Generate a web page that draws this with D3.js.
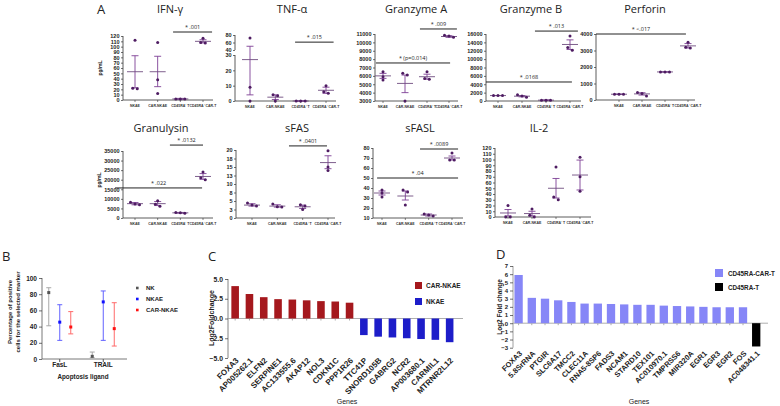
<!DOCTYPE html>
<html><head><meta charset="utf-8">
<script src="https://cdn.jsdelivr.net/npm/d3@7"></script>
<style>body{margin:0;background:#fff}svg{display:block;font-family:"Open Sans",sans-serif}</style>
</head><body><svg id="c" width="780" height="406"></svg>
<script>
// ---------- Panel A data ----------
const groupsA = ["NKAE", "CAR-NKAE", "CD45RA\u207B T", "CD45RA\u207B CAR-T"];

const ifngPoints = [[112, 22, 21], [108, 38, 12], [2, 2, 2], [116, 108, 107]];
const ifngMean = [53, 53, 2, 110];
const ifngLow = [23, 25, 1, 107];
const ifngHigh = [83, 82, 3, 113];
const ifngSig = [["* .001", 127.5, 1.68, 3.4]];

const tnfPoints = [[72, 9, 0], [4, 3.5, 0], [0, 0, 0], [10, 6, 5]];
const tnfMean = [27, 2.5, 0, 7];
const tnfLow = [4, 1, 0, 5];
const tnfHigh = [50, 4, 0, 9];
const tnfSig = [["* .015", 61, 1.78, 3.3]];

const gzmaPoints = [[6500, 5900, 5500], [6300, 6100, 3000], [6500, 5700, 5600], [10850, 10750, 10600]];
const gzmaMean = [6000, 5100, 5900, 10700];
const gzmaLow = [5700, 4000, 5600, 10600];
const gzmaHigh = [6300, 6100, 6200, 10800];
const gzmaSig = [["* .009", 11600, 1.68, 3.36], ["* (p=0.014)", 7540, -0.32, 3.05]];

const gzmbPoints = [[1300, 1300, 1300], [1500, 1200, 900], [200, 200, 200], [15500, 12800, 12100]];
const gzmbMean = [1300, 1150, 200, 13500];
const gzmbLow = [1300, 1000, 150, 12300];
const gzmbHigh = [1300, 1300, 250, 14600];
const gzmbSig = [["* .013", 16700, 1.54, 3.33], ["* .0168", 4540, -0.5, 3.08]];

const prfPoints = [[350, 350, 350], [450, 400, 250], [1700, 1700, 1700], [3500, 3200, 3150]];
const prfMean = [350, 370, 1700, 3280];
const prfLow = [350, 300, 1700, 3150];
const prfHigh = [350, 440, 1700, 3420];
const prfSig = [["* <.017", 4000, -1.0, 2.91]];

const gnlyPoints = [[8200, 7300, 6900], [9000, 7200, 6100], [2900, 2700, 2500], [24000, 21000, 20000]];
const gnlyMean = [7500, 7500, 2700, 21700];
const gnlyLow = [6900, 6500, 2500, 20200];
const gnlyHigh = [8100, 8600, 2900, 23200];
const gnlySig = [["* .0132", 38100, 1.54, 3.0], ["* .022", 15700, -0.88, 2.96]];

const sfasPoints = [[4.4, 3.8, 3.5], [4.1, 3.3, 3.2], [3.9, 3.5, 2.5], [19.8, 15, 14]];
const sfasMean = [3.8, 3.5, 3.3, 16.3];
const sfasLow = [3.5, 3.2, 2.8, 14.5];
const sfasHigh = [4.2, 3.9, 3.8, 18.3];
const sfasSig = [["* .0401", 21.2, 1.46, 2.96]];

const sfaslPoints = [[38, 35, 31], [38, 36, 23], [14, 13, 12], [75, 68, 68]];
const sfaslMean = [35, 32, 13, 70];
const sfaslLow = [33, 28, 12, 68];
const sfaslHigh = [37, 37, 14, 72];
const sfaslSig = [["* .0089", 79, 1.63, 3.26], ["* .04", 50, -0.21, 3.26]];

const il2Points = [[20, 0, 0], [14, 3, 0], [87, 35, 30], [104, 70, 45]];
const il2Mean = [7, 6, 50, 73];
const il2Low = [2, 2, 33, 47];
const il2High = [13, 10, 67, 99];
const il2Sig = [];

// ---------- Panel B data ----------
const bLigands = ["FasL", "TRAIL"];
const bSeries = ["NK", "NKAE", "CAR-NKAE"];
const nkMean = [82, 3.3], nkLow = [41, 1.5], nkHigh = [88, 8.6];
const nkaeMean = [45.5, 70.5], nkaeLow = [23, 23], nkaeHigh = [67, 84];
const carnkaeMean = [39.5, 37.5], carnkaeLow = [31, 16], carnkaeHigh = [58.5, 69.5];
const bTicks = [0, 20, 40, 60, 80, 100];

// ---------- Panel C data ----------
const cGenes = ["FOXA3", "AP005262.1", "ELFN2", "SERPINE1", "AC133555.6", "AKAP12", "NOL3", "CDKN1C", "PPP1R26",
  "TTC41P", "SNORD105B", "GABRG2", "NCR2", "AP003680.1", "CARMIL1", "MTRNR2L12"];
const cValues = [4.1, 3.1, 2.7, 2.45, 2.4, 2.3, 2.2, 2.15, 2.0, -2.1, -2.3, -2.4, -2.5, -2.6, -2.7, -3.0];
const cGroups = ["CAR-NKAE", "CAR-NKAE", "CAR-NKAE", "CAR-NKAE", "CAR-NKAE", "CAR-NKAE", "CAR-NKAE", "CAR-NKAE", "CAR-NKAE",
  "NKAE", "NKAE", "NKAE", "NKAE", "NKAE", "NKAE", "NKAE"];
const cLegend = ["CAR-NKAE", "NKAE"];
const cTicks = [-5, -2.5, 0, 2.5, 5];

// ---------- Panel D data ----------
const dGenes = ["FOXA3", "5.8SrRNA", "PTGIR", "SLC6A17", "TMCC2", "CLEC11A", "RNA5-8SP6", "FADS3", "NCAM1", "STARD10",
  "TEX101", "AC010970.1", "TMPRSS6", "MIR320A", "EGR1", "EGR3", "EGR2", "FOS", "AC048341.1"];
const dValues = [5.9, 3.1, 3.0, 2.8, 2.6, 2.4, 2.4, 2.35, 2.3, 2.25, 2.25, 2.15, 2.1, 2.05, 2.0, 1.95, 1.95, 1.95, -2.85];
const dGroups = ["CD45RA-CAR-T", "CD45RA-CAR-T", "CD45RA-CAR-T", "CD45RA-CAR-T", "CD45RA-CAR-T", "CD45RA-CAR-T", "CD45RA-CAR-T",
  "CD45RA-CAR-T", "CD45RA-CAR-T", "CD45RA-CAR-T", "CD45RA-CAR-T", "CD45RA-CAR-T", "CD45RA-CAR-T", "CD45RA-CAR-T",
  "CD45RA-CAR-T", "CD45RA-CAR-T", "CD45RA-CAR-T", "CD45RA-CAR-T", "CD45RA-T"];
const dLegend = ["CD45RA-CAR-T", "CD45RA-T"];
const dTicks = [-3, -2, -1, 0, 1, 2, 3, 4, 5, 6, 7];

// =====================================================
const svg = d3.select("#c");
const PT = "#4e1c62", MEAN = "#6f4d80", ERR = "#7e3f95", AX = "#333";

function styleAxis(sel, fs) {
  sel.select(".domain").attr("stroke", AX).attr("stroke-width", 0.8);
  sel.selectAll(".tick line").attr("stroke", AX).attr("stroke-width", 0.7);
  sel.selectAll(".tick text").attr("font-size", fs).attr("font-weight", "bold").attr("fill", "#222")
    .attr("font-family", "'Liberation Sans', Arial, sans-serif");
}

function dotPanel(o, pts, mean, lo, hi, sig) {
  const g = svg.append("g");
  const x = d3.scalePoint().domain(groupsA).range([o.xf, o.xl]);
  const xi = d3.scaleLinear().domain([0, groupsA.length - 1]).range([o.xf, o.xl]);
  let yf;
  if (o.broken) {
    const yL = d3.scaleLinear().domain(o.lower).range(o.lowerR);
    const yU = d3.scaleLinear().domain(o.upper).range(o.upperR);
    yf = v => v <= o.lower[1] ? yL(v) : yU(v);
    const a1 = g.append("g").attr("transform", `translate(${o.ax},0)`)
      .call(d3.axisLeft(yL).tickValues(o.lowerT).tickSize(2).tickPadding(1.5).tickFormat(d3.format("d")));
    const a2 = g.append("g").attr("transform", `translate(${o.ax},0)`)
      .call(d3.axisLeft(yU).tickValues(o.upperT).tickSize(2).tickPadding(1.5).tickFormat(d3.format("d")));
    styleAxis(a1, 5.5); styleAxis(a2, 5.5);
    a1.select(".domain").attr("d", `M0,${o.lowerR[0]}V${o.lowerR[1]}`);
    a2.select(".domain").attr("d", `M0,${o.upperR[0]}V${o.upperR[1]}`);
  } else {
    const y = d3.scaleLinear().domain(o.domain).range([o.yb, o.yt]);
    yf = y;
    const a = g.append("g").attr("transform", `translate(${o.ax},0)`)
      .call(d3.axisLeft(y).tickValues(o.ticks).tickSize(2).tickPadding(1.5).tickFormat(o.fmt || d3.format("d")));
    styleAxis(a, 5.5);
    a.select(".domain").attr("d", `M0,${o.yb}V${o.yt}`);
  }
  g.append("text").attr("x", o.tx).attr("y", o.ty).attr("text-anchor", "middle")
    .attr("font-size", 11).attr("fill", "#222").text(o.title);
  g.append("line").attr("x1", o.ax).attr("x2", o.ax1).attr("y1", o.yb).attr("y2", o.yb)
    .attr("stroke", AX).attr("stroke-width", 0.8);
  groupsA.forEach(c => {
    g.append("line").attr("x1", x(c)).attr("x2", x(c)).attr("y1", o.yb).attr("y2", o.yb + 2)
      .attr("stroke", AX).attr("stroke-width", 0.6);
    g.append("text").attr("x", x(c)).attr("y", o.yb + 7).attr("text-anchor", "middle")
      .attr("font-size", 3.5).attr("font-weight", "bold").attr("fill", "#333")
      .attr("font-family", "'Liberation Sans', Arial, sans-serif").text(c);
  });
  if (o.ylab) {
    g.append("text").attr("transform", `translate(${o.ylab[0]},${o.ylab[1]}) rotate(-90)`)
      .attr("text-anchor", "middle").attr("font-size", 5).attr("font-weight", "bold").attr("fill", "#222")
      .attr("font-family", "'Liberation Sans', Arial, sans-serif").text("pg/mL");
  }
  groupsA.forEach((c, i) => {
    const cx = x(c);
    g.append("line").attr("x1", cx).attr("x2", cx).attr("y1", yf(lo[i])).attr("y2", yf(hi[i]))
      .attr("stroke", ERR).attr("stroke-width", 0.9);
    [lo[i], hi[i]].forEach(v => g.append("line").attr("x1", cx - 3.5).attr("x2", cx + 3.5)
      .attr("y1", yf(v)).attr("y2", yf(v)).attr("stroke", ERR).attr("stroke-width", 0.9));
    g.append("line").attr("x1", cx - 8).attr("x2", cx + 8).attr("y1", yf(mean[i])).attr("y2", yf(mean[i]))
      .attr("stroke", MEAN).attr("stroke-width", 0.9);
    const ys = pts[i].map(v => yf(v)).sort((a, b) => a - b);
    const clusters = [];
    ys.forEach(py => {
      const last = clusters[clusters.length - 1];
      if (last && Math.abs(py - last[last.length - 1]) < 3) last.push(py); else clusters.push([py]);
    });
    clusters.forEach(cl => {
      cl.forEach((py, k) => {
        const off = (k - (cl.length - 1) / 2) * 4.5;
        g.append("circle").attr("cx", cx + off).attr("cy", py).attr("r", 1.5).attr("fill", PT);
      });
    });
  });
  sig.forEach(s => {
    const y0 = yf(s[1]);
    g.append("line").attr("x1", xi(s[2])).attr("x2", xi(s[3])).attr("y1", y0).attr("y2", y0)
      .attr("stroke", "#222").attr("stroke-width", 1);
    g.append("text").attr("x", (xi(s[2]) + xi(s[3])) / 2).attr("y", y0 - 3).attr("text-anchor", "middle")
      .attr("font-size", 5.5).attr("fill", "#222").text(s[0]);
  });
}

dotPanel({ title: "IFN-\u03B3", tx: 170, ty: 13, ax: 123, ax1: 213, yb: 100, yt: 36, domain: [0, 120],
  ticks: d3.range(0, 121, 10), xf: 135, xl: 203, ylab: [102, 68] }, ifngPoints, ifngMean, ifngLow, ifngHigh, ifngSig);
dotPanel({ title: "TNF-\u03B1", tx: 292, ty: 13, ax: 235, ax1: 336, yb: 101, broken: true,
  lower: [0, 30], lowerR: [101, 55], upper: [40, 80], upperR: [50, 35], lowerT: [0, 10, 20, 30], upperT: [40, 60, 80],
  xf: 250, xl: 326 }, tnfPoints, tnfMean, tnfLow, tnfHigh, tnfSig);
dotPanel({ title: "Granzyme A", tx: 416, ty: 13, ax: 375, ax1: 458, yb: 101, yt: 34, domain: [3000, 11000],
  ticks: d3.range(3000, 11001, 1000), xf: 383, xl: 449 }, gzmaPoints, gzmaMean, gzmaLow, gzmaHigh, gzmaSig);
dotPanel({ title: "Granzyme B", tx: 531, ty: 13, ax: 486, ax1: 581, yb: 101, yt: 34, domain: [0, 16000],
  ticks: d3.range(0, 16001, 2000), xf: 498, xl: 570 }, gzmbPoints, gzmbMean, gzmbLow, gzmbHigh, gzmbSig);
dotPanel({ title: "Perforin", tx: 645, ty: 13, ax: 596, ax1: 695, yb: 100, yt: 34, domain: [0, 4000],
  ticks: d3.range(0, 4001, 1000), xf: 619, xl: 688 }, prfPoints, prfMean, prfLow, prfHigh, prfSig);
dotPanel({ title: "Granulysin", tx: 161, ty: 132, ax: 123, ax1: 213, yb: 218, yt: 151, domain: [0, 35000],
  ticks: d3.range(0, 35001, 5000), xf: 135, xl: 203, ylab: [101, 180] }, gnlyPoints, gnlyMean, gnlyLow, gnlyHigh, gnlySig);
dotPanel({ title: "sFAS", tx: 297, ty: 132, ax: 236, ax1: 335, yb: 218, yt: 150, domain: [0, 20],
  ticks: d3.range(0, 20.01, 2.5), fmt: d => Math.round(d), xf: 252, xl: 328 }, sfasPoints, sfasMean, sfasLow, sfasHigh, sfasSig);
dotPanel({ title: "sFASL", tx: 420, ty: 132, ax: 373, ax1: 463, yb: 218, yt: 148, domain: [10, 80],
  ticks: d3.range(10, 81, 10), xf: 382, xl: 452 }, sfaslPoints, sfaslMean, sfaslLow, sfaslHigh, sfaslSig);
dotPanel({ title: "IL-2", tx: 539, ty: 132, ax: 495, ax1: 591, yb: 217, yt: 148, domain: [0, 120],
  ticks: d3.range(0, 121, 10), xf: 508, xl: 580 }, il2Points, il2Mean, il2Low, il2High, il2Sig);

// panel letters
[["A", 97, 14], ["B", 2, 261], ["C", 208, 261], ["D", 496, 259]].forEach(l =>
  svg.append("text").attr("x", l[1]).attr("y", l[2]).attr("font-size", 13).attr("fill", "#222").text(l[0]));

// =========== Panel B ===========
(function () {
  const g = svg.append("g");
  const LF = "'Liberation Sans', Arial, sans-serif";
  const y = d3.scaleLinear().domain([0, 100]).range([359, 278]);
  const x = d3.scaleBand().domain(bLigands).range([38, 125]);
  const xs = d3.scalePoint().domain(bSeries).range([-11, 11]);
  const ya = g.append("g").attr("transform", "translate(42,0)")
    .call(d3.axisLeft(y).tickValues(bTicks).tickSize(3).tickPadding(2));
  styleAxis(ya, 6.5);
  ya.select(".domain").attr("d", "M0,359V278").attr("stroke", "#555");
  g.append("line").attr("x1", 42).attr("x2", 127).attr("y1", 359).attr("y2", 359).attr("stroke", "#555").attr("stroke-width", 0.8);
  bLigands.forEach(l => {
    const cx = x(l) + x.bandwidth() / 2;
    g.append("line").attr("x1", cx).attr("x2", cx).attr("y1", 359).attr("y2", 362).attr("stroke", "#555");
    g.append("text").attr("x", cx).attr("y", 367).attr("text-anchor", "middle").attr("font-size", 6.5)
      .attr("font-weight", "bold").attr("font-family", LF).attr("fill", "#222").text(l);
  });
  g.append("text").attr("x", 83).attr("y", 379).attr("text-anchor", "middle").attr("font-size", 6.3)
    .attr("font-weight", "bold").attr("font-family", LF).attr("fill", "#222").text("Apoptosis ligand");
  const yl = g.append("text").attr("transform", "translate(12,312) rotate(-90)").attr("text-anchor", "middle")
    .attr("font-size", 6).attr("font-weight", "bold").attr("font-family", LF).attr("fill", "#222");
  yl.append("tspan").attr("x", 0).attr("dy", 0).text("Percentage of positive");
  yl.append("tspan").attr("x", 0).attr("dy", 7.5).text("cells for the selected marker");
  const series = [
    [nkMean, nkLow, nkHigh, "#a8a8a8", "#555"],
    [nkaeMean, nkaeLow, nkaeHigh, "#6262ff", "#1010ff"],
    [carnkaeMean, carnkaeLow, carnkaeHigh, "#ff6a6a", "#ff1010"]];
  series.forEach((s, si) => {
    bLigands.forEach((l, li) => {
      const cx = x(l) + x.bandwidth() / 2 + xs(bSeries[si]);
      g.append("line").attr("x1", cx).attr("x2", cx).attr("y1", y(s[1][li])).attr("y2", y(s[2][li]))
        .attr("stroke", s[3]).attr("stroke-width", 1);
      [s[1][li], s[2][li]].forEach(v => g.append("line").attr("x1", cx - 2.5).attr("x2", cx + 2.5)
        .attr("y1", y(v)).attr("y2", y(v)).attr("stroke", s[3]).attr("stroke-width", 1));
      g.append("rect").attr("x", cx - 1.5).attr("y", y(s[0][li]) - 1.5).attr("width", 3).attr("height", 3).attr("fill", s[4]);
    });
    const ly = 288 + si * 11;
    g.append("rect").attr("x", 136).attr("y", ly - 1.3).attr("width", 2.6).attr("height", 2.6).attr("fill", s[4]);
    g.append("text").attr("x", 146).attr("y", ly + 2).attr("font-size", 6).attr("font-weight", "bold")
      .attr("font-family", LF).attr("fill", "#222").text(bSeries[si]);
  });
})();

// =========== Panel C ===========
(function () {
  const g = svg.append("g");
  const LF = "'Liberation Sans', Arial, sans-serif";
  const y = d3.scaleLinear().domain([-5, 5]).range([358, 279]);
  const x = d3.scaleBand().domain(cGenes).range([228, 456.8]).paddingInner(0.47).paddingOuter(0.235);
  const col = d3.scaleOrdinal().domain(cLegend).range(["#a5181d", "#1d1dc9"]);
  const ya = g.append("g").attr("transform", "translate(228,0)")
    .call(d3.axisLeft(y).tickValues(cTicks).tickSize(3).tickPadding(2).tickFormat(d3.format(".1f")));
  styleAxis(ya, 6.8);
  ya.select(".domain").attr("d", "M0,358V279").attr("stroke", "#666");
  g.append("line").attr("x1", 228).attr("x2", 463).attr("y1", y(0)).attr("y2", y(0)).attr("stroke", "#999").attr("stroke-width", 0.8);
  cGenes.forEach((gn, i) => {
    const cx = x(gn) + x.bandwidth() / 2;
    g.append("line").attr("x1", cx).attr("x2", cx).attr("y1", y(0)).attr("y2", y(0) + 2).attr("stroke", "#aaa");
    g.append("rect").attr("x", x(gn)).attr("width", x.bandwidth())
      .attr("y", y(Math.max(0, cValues[i]))).attr("height", Math.abs(y(cValues[i]) - y(0)))
      .attr("fill", col(cGroups[i]));
    g.append("text").attr("transform", `translate(${cx + 4},${361}) rotate(-45)`).attr("text-anchor", "end")
      .attr("font-size", 8).attr("font-weight", "bold").attr("font-family", LF).attr("fill", "#222").text(gn);
  });
  g.append("text").attr("transform", "translate(214,318) rotate(-90)").attr("text-anchor", "middle")
    .attr("font-size", 7).attr("font-weight", "bold").attr("font-family", LF).attr("fill", "#222").text("Log2Foldchange");
  g.append("text").attr("x", 347).attr("y", 404).attr("text-anchor", "middle").attr("font-size", 7)
    .attr("font-family", LF).attr("fill", "#222").text("Genes");
  cLegend.forEach((l, i) => {
    g.append("rect").attr("x", 415).attr("y", 282 + i * 16).attr("width", 7).attr("height", 7).attr("fill", col(l));
    g.append("text").attr("x", 426).attr("y", 288 + i * 16).attr("font-size", 6.5).attr("font-weight", "bold")
      .attr("font-family", LF).attr("fill", "#222").text(l);
  });
})();

// =========== Panel D ===========
(function () {
  const g = svg.append("g");
  const LF = "'Liberation Sans', Arial, sans-serif";
  const y = d3.scaleLinear().domain([-3, 7]).range([347.7, 266]);
  const x = d3.scaleBand().domain(dGenes).range([512, 762.8]).paddingInner(0.37).paddingOuter(0.185);
  const col = d3.scaleOrdinal().domain(dLegend).range(["#8686f7", "#000000"]);
  const ya = g.append("g").attr("transform", "translate(513,0)")
    .call(d3.axisLeft(y).tickValues(dTicks).tickSize(3).tickPadding(2).tickFormat(d3.format("d")));
  styleAxis(ya, 6);
  ya.select(".domain").attr("d", "M0,347.7V266").attr("stroke", "#888");
  g.append("line").attr("x1", 513).attr("x2", 768).attr("y1", y(0)).attr("y2", y(0)).attr("stroke", "#999").attr("stroke-width", 0.8);
  dGenes.forEach((gn, i) => {
    const cx = x(gn) + x.bandwidth() / 2;
    g.append("line").attr("x1", cx).attr("x2", cx).attr("y1", y(0)).attr("y2", y(0) + 2).attr("stroke", "#aaa");
    g.append("rect").attr("x", x(gn)).attr("width", x.bandwidth())
      .attr("y", y(Math.max(0, dValues[i]))).attr("height", Math.abs(y(dValues[i]) - y(0)))
      .attr("fill", col(dGroups[i]));
    g.append("text").attr("transform", `translate(${cx + 4},${354}) rotate(-45)`).attr("text-anchor", "end")
      .attr("font-size", 7.5).attr("font-weight", "bold").attr("font-family", LF).attr("fill", "#222").text(gn);
  });
  g.append("text").attr("transform", "translate(502,307) rotate(-90)").attr("text-anchor", "middle")
    .attr("font-size", 6.5).attr("font-weight", "bold").attr("font-family", LF).attr("fill", "#222").text("Log2 Fold change");
  g.append("text").attr("x", 639).attr("y", 404).attr("text-anchor", "middle").attr("font-size", 7)
    .attr("font-family", LF).attr("fill", "#222").text("Genes");
  dLegend.forEach((l, i) => {
    g.append("rect").attr("x", 715).attr("y", 269 + i * 14).attr("width", 8).attr("height", 8).attr("fill", col(l));
    g.append("text").attr("x", 728).attr("y", 276 + i * 14).attr("font-size", 6.3).attr("font-weight", "bold")
      .attr("font-family", LF).attr("fill", "#222").text(l);
  });
})();
</script></body></html>
